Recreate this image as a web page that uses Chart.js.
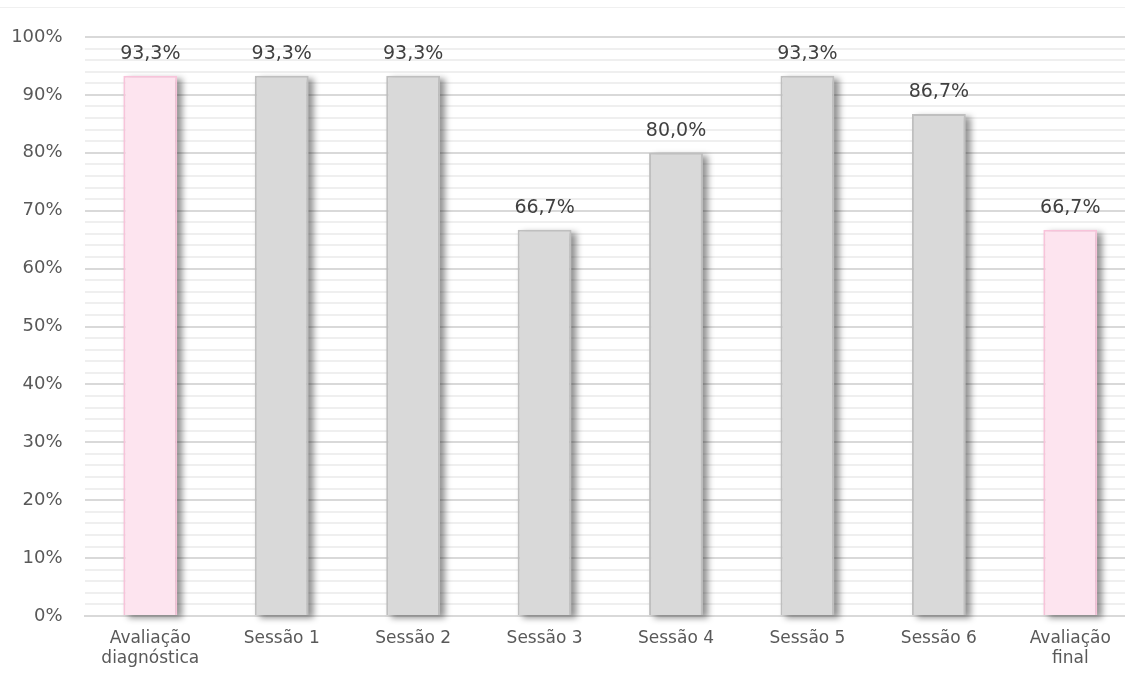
<!DOCTYPE html>
<html>
<head>
<meta charset="utf-8">
<script src="https://cdn.jsdelivr.net/npm/chart.js@4"></script>
<style>
html,body{margin:0;padding:0;background:#fff;overflow:hidden;}
#wrap{width:1125px;height:677px;position:relative;overflow:hidden;}
</style>
</head>
<body>
<div id="wrap"><canvas id="c" width="1140" height="677"></canvas></div>
<script>
const categories = [["Avaliação","diagnóstica"],"Sessão 1","Sessão 2","Sessão 3","Sessão 4","Sessão 5","Sessão 6",["Avaliação","final"]];
const values = [93.3, 93.3, 93.3, 66.7, 80.0, 93.3, 86.7, 66.7];
const barKinds = ["evaluation","session","session","session","session","session","session","evaluation"];
const yTickLabels = ["0%","10%","20%","30%","40%","50%","60%","70%","80%","90%","100%"];

const fillFor = {evaluation:"#fde4ef", session:"#d9d9d9"};
const borderFor = {evaluation:"#f8c3da", session:"#bfbfbf"};
const FONT = "'DejaVu Sans', sans-serif";

const shadowPlugin = {
  id:'shadow',
  beforeDatasetsDraw(chart){
    const ctx = chart.ctx;
    const meta = chart.getDatasetMeta(0);
    meta.data.forEach(bar=>{
      const p = bar.getProps(['x','y','base','width'], true);
      const left = p.x - p.width/2;
      ctx.save();
      ctx.filter = 'blur(3px)';
      ctx.fillStyle = 'rgba(0,0,0,0.42)';
      ctx.fillRect(left + 5, p.y + 3, p.width, p.base - p.y);
      ctx.restore();
    });
  }
};

const frameLine = {
  id:'frameLine',
  beforeDraw(chart){
    const ctx = chart.ctx;
    ctx.save();
    ctx.strokeStyle = '#f0f0f0';
    ctx.lineWidth = 1;
    ctx.beginPath();
    ctx.moveTo(0, 7.5);
    ctx.lineTo(chart.width, 7.5);
    ctx.stroke();
    ctx.restore();
  }
};

const labelPlugin = {
  id:'valLabels',
  afterDatasetsDraw(chart){
    const ctx = chart.ctx;
    const meta = chart.getDatasetMeta(0);
    ctx.save();
    ctx.font = "19px " + FONT;
    ctx.fillStyle = "#404040";
    ctx.textAlign = "center";
    ctx.textBaseline = "alphabetic";
    meta.data.forEach((bar,i)=>{
      const txt = values[i].toFixed(1).replace('.',',') + '%';
      ctx.fillText(txt, bar.x, bar.y - 17);
    });
    ctx.restore();
  }
};

new Chart(document.getElementById('c'), {
  type:'bar',
  data:{
    labels: categories,
    datasets:[{
      data: values,
      backgroundColor: barKinds.map(k=>fillFor[k]),
      borderColor: barKinds.map(k=>borderFor[k]),
      borderWidth: 2,
      borderSkipped: 'bottom',
      barPercentage: 0.41,
      categoryPercentage: 1
    }]
  },
  options:{
    responsive:false,
    animation:false,
    devicePixelRatio:1,
    layout:{padding:{top:37,right:4,left:0,bottom:0}},
    plugins:{legend:{display:false},tooltip:{enabled:false}},
    scales:{
      x:{
        afterFit(s){ s.height = 61; },
        grid:{display:false, drawTicks:false},
        border:{display:true,color:'#d9d9d9',width:2},
        ticks:{color:'#595959',font:{family:FONT,size:17,lineHeight:1.2},padding:12,maxRotation:0,autoSkip:false}
      },
      y:{
        min:0,max:100,
        afterFit(s){ s.width = 84.6; },
        border:{display:false},
        grid:{
          drawTicks:false,
          color:(c)=> (c.tick && c.tick.value % 10 === 0) ? '#d9d9d9' : '#efefef',
          lineWidth:2
        },
        ticks:{
          stepSize:2, autoSkip:false,
          color:'#595959', font:{family:FONT,size:18}, padding:22,
          callback:(v)=> v % 10 === 0 ? yTickLabels[v/10] : ''
        }
      }
    }
  },
  plugins:[frameLine,shadowPlugin,labelPlugin]
});
</script>
</body>
</html>
